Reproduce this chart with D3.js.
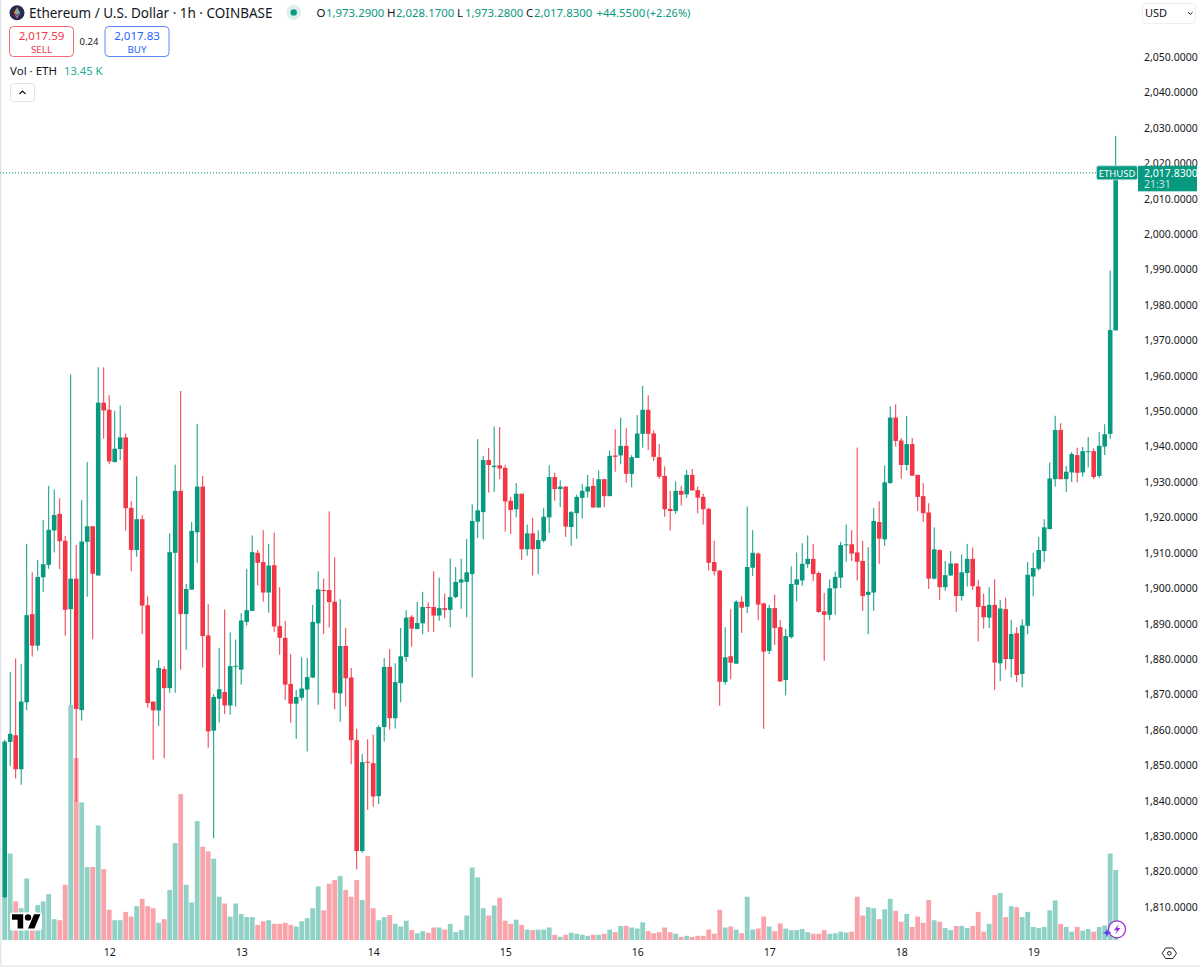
<!DOCTYPE html>
<html>
<head>
<meta charset="utf-8">
<script src="https://cdn.jsdelivr.net/npm/d3@7"></script>
<style>
  html, body { margin: 0; padding: 0; background: #fff; }
  svg { display: block; }
  text { font-family: "Noto Sans", sans-serif; fill: #131722; }
</style>
</head>
<body>
<div id="chart"></div>
<script>
var highs = [
  1857.2,1876.3,1880.2,1878.6,1912.5,1904.5,1908.0,1919.3,1928.9,1927.9,
  1925.4,1914.8,1960.4,1912.2,1924.9,1935.6,1917.5,1962.4,1962.4,1954.5,
  1950.1,1951.6,1943.7,1924.6,1931.6,1920.7,1897.7,1868.0,1879.7,1878.0,
  1915.5,1934.9,1955.7,1901.2,1918.7,1946.4,1931.7,1895.5,1870.1,1883.2,
  1894.0,1887.5,1885.5,1893.0,1905.4,1914.9,1910.8,1916.4,1912.5,1915.7,
  1900.3,1890.8,1881.4,1871.3,1880.5,1880.3,1895.3,1904.8,1902.7,1921.7,
  1908.7,1896.9,1888.8,1877.5,1860.3,1853.2,1857.4,1858.7,1861.3,1880.3,
  1882.8,1878.8,1888.8,1893.8,1892.4,1896.2,1899.0,1896.0,1904.8,1903.0,
  1898.5,1908.4,1906.0,1908.3,1913.9,1923.7,1942.1,1937.4,1939.6,1945.7,
  1945.5,1934.9,1925.8,1929.7,1926.7,1918.0,1919.9,1916.4,1922.7,1934.7,
  1932.6,1930.5,1928.8,1921.8,1926.4,1929.4,1932.0,1931.1,1933.3,1930.8,
  1938.9,1944.9,1948.2,1945.2,1937.6,1948.9,1957.1,1954.5,1944.6,1940.7,
  1934.4,1927.5,1930.2,1928.9,1933.4,1933.7,1928.7,1926.7,1922.8,1913.4,
  1905.0,1889.0,1894.1,1896.6,1897.7,1923.1,1916.4,1910.1,1896.0,1895.3,
  1898.2,1891.0,1888.5,1906.2,1910.1,1912.7,1914.9,1912.5,1904.7,1898.7,
  1902.5,1904.7,1913.1,1918.0,1916.4,1939.7,1913.4,1911.6,1922.7,1924.6,
  1934.7,1951.4,1951.9,1942.4,1948.6,1942.4,1932.1,1929.7,1924.0,1917.2,
  1911.0,1907.7,1910.5,1907.1,1909.5,1912.5,1911.5,1902.4,1898.5,1900.3,
  1902.5,1896.7,1897.3,1891.1,1889.0,1891.2,1907.4,1910.0,1914.5,1919.5,
  1935.5,1948.7,1946.6,1934.5,1938.5,1939.7,1939.9,1942.7,1939.5,1944.1,
  1946.3,1989.7,2027.7
];
var lows = [
  1812.4,1849.8,1846.3,1844.5,1865.6,1880.7,1882.4,1898.9,1905.5,1910.1,
  1905.4,1886.6,1867.0,1839.7,1862.6,1897.6,1885.6,1903.6,1942.2,1935.0,
  1935.6,1936.2,1916.3,1904.8,1908.9,1887.1,1866.3,1851.6,1861.1,1852.0,
  1870.5,1870.5,1877.0,1882.6,1899.6,1907.2,1877.6,1855.0,1829.4,1862.1,
  1864.5,1864.3,1866.6,1872.8,1889.5,1893.6,1900.8,1896.2,1893.1,1887.7,
  1881.2,1868.5,1862.0,1857.5,1868.3,1853.9,1874.6,1867.1,1887.1,1888.9,
  1865.8,1862.3,1866.6,1850.3,1820.6,1825.3,1837.4,1838.3,1839.1,1856.7,
  1860.1,1860.4,1867.8,1879.3,1883.5,1888.4,1887.0,1887.7,1887.7,1890.8,
  1891.5,1889.0,1897.2,1894.2,1891.8,1874.8,1914.2,1913.8,1927.0,1927.2,
  1930.8,1916.0,1915.3,1920.0,1908.0,1909.2,1903.6,1904.0,1912.9,1915.6,
  1924.7,1922.9,1914.5,1912.0,1914.0,1919.7,1925.6,1922.8,1922.8,1922.9,
  1926.0,1932.9,1935.0,1929.8,1928.5,1936.8,1939.7,1939.0,1935.9,1930.9,
  1920.2,1916.3,1921.0,1923.3,1925.5,1927.6,1921.2,1918.0,1905.0,1903.6,
  1866.8,1872.8,1874.3,1878.7,1887.4,1893.0,1903.5,1891.0,1860.3,1881.4,
  1884.0,1873.5,1869.8,1885.8,1896.3,1900.7,1905.8,1902.0,1893.1,1879.5,
  1891.0,1892.5,1900.1,1907.5,1907.7,1902.2,1893.6,1887.0,1893.6,1906.9,
  1912.0,1929.5,1940.0,1930.9,1933.2,1931.7,1921.8,1918.7,1899.8,1902.5,
  1896.7,1899.3,1903.6,1893.3,1896.5,1900.5,1899.5,1885.0,1888.6,1888.8,
  1871.3,1873.8,1877.0,1874.8,1873.5,1872.0,1887.0,1897.7,1905.0,1907.4,
  1916.7,1928.7,1930.8,1927.2,1930.0,1929.9,1931.5,1934.1,1930.8,1931.2,
  1937.6,1942.2,1972.8
];
var opens = [
  1812.8,1856.6,1858.5,1848.9,1867.8,1892.7,1883.8,1903.1,1906.6,1916.3,
  1921.0,1913.4,1894.1,1902.7,1865.6,1913.1,1917.5,1903.6,1952.4,1950.4,
  1935.6,1939.3,1942.6,1922.7,1910.8,1919.5,1895.2,1868.0,1865.5,1877.2,
  1871.8,1910.0,1927.5,1892.7,1899.6,1915.8,1928.7,1886.7,1859.8,1868.8,
  1870.7,1866.9,1878.0,1877.0,1890.5,1893.6,1910.0,1907.4,1898.8,1906.5,
  1889.3,1886.0,1873.0,1867.4,1869.1,1871.4,1874.8,1890.1,1899.5,1899.5,
  1896.2,1870.3,1883.7,1874.8,1857.1,1825.8,1851.0,1850.6,1841.3,1860.8,
  1877.8,1863.3,1873.2,1880.6,1891.9,1888.5,1890.1,1894.7,1894.7,1892.3,
  1894.4,1893.9,1897.5,1901.6,1901.8,1904.0,1918.8,1921.5,1936.2,1934.2,
  1934.7,1934.0,1924.7,1922.3,1926.7,1911.0,1915.5,1911.1,1913.4,1920.0,
  1931.4,1928.0,1928.7,1917.3,1921.2,1925.5,1927.3,1928.9,1922.8,1930.8,
  1926.0,1937.5,1937.5,1940.2,1932.3,1936.8,1943.6,1950.4,1943.7,1937.0,
  1931.7,1922.4,1921.8,1927.5,1926.5,1932.0,1927.7,1925.8,1922.4,1907.4,
  1905.0,1873.5,1880.8,1878.7,1896.2,1894.8,1905.8,1909.8,1895.7,1882.3,
  1894.4,1889.0,1874.1,1886.2,1901.0,1902.2,1906.8,1908.3,1904.3,1893.5,
  1892.5,1900.0,1903.0,1912.3,1912.4,1910.1,1907.7,1898.1,1898.8,1918.7,
  1913.8,1929.7,1948.2,1941.7,1934.8,1940.7,1932.0,1926.0,1921.4,1902.7,
  1910.8,1900.3,1903.6,1907.0,1897.8,1904.3,1908.3,1900.5,1895.0,1891.7,
  1895.3,1878.8,1894.1,1880.0,1887.3,1875.8,1889.4,1903.3,1905.5,1910.5,
  1916.7,1930.8,1944.7,1930.8,1932.7,1937.6,1932.7,1938.6,1938.7,1931.7,
  1940.0,1943.6,1972.8
];
var closes = [
  1856.7,1858.9,1848.9,1868.0,1892.4,1883.8,1903.2,1906.8,1916.5,1920.7,
  1913.3,1893.9,1902.7,1865.9,1913.2,1917.5,1904.1,1952.4,1950.2,1935.8,
  1939.4,1942.6,1922.6,1910.8,1919.5,1895.1,1867.6,1865.5,1877.5,1871.8,
  1910.2,1927.5,1892.7,1899.8,1916.2,1928.7,1886.5,1859.6,1869.3,1871.5,
  1866.9,1878.0,1878.1,1890.9,1893.8,1910.2,1907.2,1898.8,1906.4,1889.2,
  1886.0,1872.8,1867.4,1869.3,1871.7,1874.9,1890.5,1899.7,1899.3,1896.1,
  1870.5,1883.7,1874.6,1857.1,1825.8,1850.9,1850.8,1841.2,1860.8,1877.8,
  1863.3,1873.5,1880.8,1891.7,1888.6,1890.2,1894.7,1894.5,1892.3,1894.4,
  1893.9,1897.5,1901.8,1902.5,1904.5,1919.0,1922.0,1936.2,1934.8,1934.6,
  1933.8,1924.5,1922.1,1926.7,1911.0,1915.5,1911.0,1913.6,1920.2,1931.4,
  1928.0,1928.7,1917.4,1921.5,1925.8,1927.5,1928.7,1922.8,1930.8,1926.0,
  1937.4,1937.1,1940.2,1932.3,1937.0,1943.7,1950.4,1943.6,1937.1,1931.5,
  1922.3,1921.8,1927.5,1926.4,1932.0,1927.6,1925.6,1922.3,1907.2,1904.8,
  1873.6,1880.5,1879.0,1896.2,1894.5,1906.0,1910.0,1895.4,1882.1,1894.4,
  1888.8,1873.7,1886.5,1901.2,1902.5,1906.9,1908.3,1904.0,1893.3,1892.5,
  1900.0,1903.2,1912.2,1912.4,1909.8,1907.5,1897.8,1899.0,1919.0,1914.0,
  1929.9,1948.2,1941.6,1934.8,1940.7,1931.8,1925.8,1921.2,1902.7,1911.0,
  1900.3,1903.7,1907.0,1897.8,1904.5,1908.3,1900.6,1894.7,1891.8,1895.3,
  1879.0,1894.3,1880.0,1887.1,1875.5,1889.5,1903.8,1905.7,1910.8,1917.2,
  1931.0,1944.7,1930.8,1932.9,1937.9,1932.6,1938.7,1938.7,1931.4,1940.2,
  1943.5,1972.9,2017.3
];
// volume in thousands of ETH
var volumes = [
  8.3,16.6,7.4,6.1,11.8,3.8,6.7,7.4,8.8,4.0,
  3.8,10.6,45.1,34.9,26.4,14.0,14.0,22.0,13.6,5.8,
  3.8,3.8,5.4,4.5,6.5,7.9,6.5,6.1,3.3,4.0,
  9.6,18.6,28.0,10.6,7.2,22.8,17.9,17.0,15.6,8.3,
  7.0,4.5,7.0,5.0,4.4,4.4,2.9,3.6,3.8,3.1,
  3.1,3.3,2.9,2.6,3.6,4.2,6.1,10.3,5.7,10.8,
  11.5,12.3,9.6,8.3,11.5,7.7,16.1,6.1,3.8,4.4,
  4.8,3.1,2.6,3.7,1.9,1.3,1.7,1.4,2.4,2.4,
  2.0,3.1,1.5,1.9,4.7,13.9,12.0,6.1,4.7,6.6,
  8.1,3.7,3.1,3.9,2.9,2.0,1.9,2.0,2.0,2.4,
  1.0,0.6,1.0,1.4,1.2,1.0,0.8,1.0,1.0,1.2,
  2.0,1.5,2.7,2.7,2.4,2.2,3.4,1.7,1.3,1.5,
  2.4,1.5,1.2,0.6,0.8,0.6,0.8,0.8,2.0,1.2,
  5.8,2.4,2.6,2.0,1.3,8.3,2.0,2.2,4.5,2.6,
  1.7,3.2,2.2,1.9,1.9,2.1,1.5,1.2,1.2,1.9,
  1.2,1.3,1.6,1.4,1.6,8.3,4.7,6.3,6.1,4.0,
  5.9,7.9,5.6,3.5,5.0,2.5,4.5,3.3,7.7,3.8,
  3.5,2.3,1.9,2.7,2.7,2.3,2.7,5.4,1.6,3.1,
  8.6,9.0,4.4,6.5,6.3,4.4,5.4,2.5,2.3,2.5,
  5.7,7.6,3.1,2.5,1.6,2.5,1.8,2.1,1.6,2.5,
  2.8,16.6,13.45
];
var dayStarts = [19, 43, 67, 91, 115, 139, 163, 187];
var dayLabels = ["12", "13", "14", "15", "16", "17", "18", "19"];
var priceTicks = d3.range(1810, 2051, 10);

var width = 1200, height = 967;
var green = "#089981", red = "#F23645";

var svg = d3.select("#chart").append("svg")
    .attr("width", width)
    .attr("height", height);

var x = d3.scaleLinear().domain([0, closes.length - 1]).range([4.7, 1115.7]);
var y = d3.scaleLinear().domain([1810, 2050]).range([907, 57]);
var yVol = d3.scaleLinear().domain([0, 45.1]).range([940, 705]);

function colorOf(i) { return closes[i] >= opens[i] ? green : red; }

// frame
svg.append("rect").attr("width", 1.5).attr("height", height).attr("fill", "#e6e7ea");
svg.append("rect").attr("y", 965).attr("width", width).attr("height", 2).attr("fill", "#eeeff1");

// volume pane
svg.append("g").selectAll("rect")
    .data(volumes)
    .enter().append("rect")
    .attr("x", function(d, i) { return x(i) - 2.4; })
    .attr("y", function(d) { return yVol(d); })
    .attr("width", 4.8)
    .attr("height", function(d) { return yVol(0) - yVol(d); })
    .attr("fill", function(d, i) { return colorOf(i); })
    .attr("opacity", 0.45);

// candles
var candles = svg.append("g").selectAll("g")
    .data(closes)
    .enter().append("g");

candles.append("line")
    .attr("x1", function(d, i) { return x(i); })
    .attr("x2", function(d, i) { return x(i); })
    .attr("y1", function(d, i) { return y(highs[i]); })
    .attr("y2", function(d, i) { return y(lows[i]); })
    .attr("stroke", function(d, i) { return colorOf(i); })
    .attr("stroke-width", 1);

candles.append("rect")
    .attr("x", function(d, i) { return x(i) - 2.3; })
    .attr("y", function(d, i) { return y(Math.max(opens[i], closes[i])); })
    .attr("width", 4.6)
    .attr("height", function(d, i) { return Math.max(1, Math.abs(y(opens[i]) - y(closes[i]))); })
    .attr("fill", function(d, i) { return colorOf(i); });

// price axis
var yAxis = d3.axisRight(y)
    .tickValues(priceTicks)
    .tickFormat(d3.format(",.4f"))
    .tickSize(0)
    .tickPadding(6);
var yG = svg.append("g").attr("transform", "translate(1138,0)").call(yAxis);
yG.select(".domain").remove();
yG.selectAll("text").style("font-size", "10.5px").style("font-family", "Noto Sans").attr("fill", "#131722");

// time axis
var xAxis = d3.axisBottom(x)
    .tickValues(dayStarts)
    .tickFormat(function(d, i) { return dayLabels[i]; })
    .tickSize(0)
    .tickPadding(8);
var xG = svg.append("g").attr("transform", "translate(0,941)").call(xAxis);
xG.select(".domain").remove();
xG.selectAll("text").style("font-size", "10.5px").style("font-family", "Noto Sans").attr("fill", "#131722");

// last price line and labels
var last = closes[closes.length - 1];
svg.append("line")
    .attr("x1", 0).attr("x2", 1097)
    .attr("y1", y(last)).attr("y2", y(last))
    .attr("stroke", green).attr("stroke-width", 1).attr("stroke-dasharray", "1 2");

svg.append("rect").attr("x", 1096.5).attr("y", y(last) - 7).attr("width", 41).attr("height", 14)
    .attr("rx", 2).attr("fill", green).attr("stroke", "#bfe5de").attr("stroke-width", 0.8);
svg.append("text").attr("x", 1117).attr("y", y(last) + 3.7).attr("text-anchor", "middle")
    .style("font-size", "9.5px").style("fill", "#fff").text("ETHUSD");
svg.append("rect").attr("x", 1138).attr("y", y(last) - 7).attr("width", 59).attr("height", 25.5)
    .attr("fill", green);
svg.append("text").attr("x", 1144).attr("y", y(last) + 3.7)
    .style("font-size", "10.5px").style("fill", "#fff").text(d3.format(",.4f")(2017.83));
svg.append("text").attr("x", 1144).attr("y", y(last) + 15)
    .style("font-size", "10.5px").style("fill", "#fff").attr("opacity", 0.75).text("21:31");

// header
var logo = svg.append("g").attr("transform", "translate(17,12.7)");
logo.append("circle").attr("r", 7.5).attr("fill", "#2a2a4a");
logo.append("path").attr("d", "M0,-5.5L-3.3,0.2L0,2.2Z").attr("fill", "#e0873a");
logo.append("path").attr("d", "M0,-5.5L3.3,0.2L0,2.2Z").attr("fill", "#5fb8d8");
logo.append("path").attr("d", "M-3.3,1L0,3L0,5.7Z").attr("fill", "#d8509a");
logo.append("path").attr("d", "M3.3,1L0,3L0,5.7Z").attr("fill", "#8a6fd0");

svg.append("text").attr("x", 29).attr("y", 18).style("font-size", "13.5px").text("Ethereum / U.S. Dollar · 1h · COINBASE");

svg.append("circle").attr("cx", 293.7).attr("cy", 12.4).attr("r", 7.5).attr("fill", "#dcf1ee");
svg.append("circle").attr("cx", 293.7).attr("cy", 12.4).attr("r", 3.2).attr("fill", green);

var ohlcLabels = [["O", 316.5], ["H", 387], ["L", 457], ["C", 526]];
var ohlcValues = [["1,973.2900", 326, 11.4], ["2,028.1700", 396, 11.4], ["1,973.2800", 465, 11.4], ["2,017.8300", 534, 11.4],
                  ["+44.5500", 596.5, 11.4], ["(+2.26%)", 646.5, 11]];
ohlcLabels.forEach(function(d) {
  svg.append("text").attr("x", d[1]).attr("y", 17).style("font-size", "11.5px").text(d[0]);
});
ohlcValues.forEach(function(d) {
  svg.append("text").attr("x", d[1]).attr("y", 17).style("font-size", d[2] + "px").style("fill", green).text(d[0]);
});

// sell and buy boxes
function tradeBox(left, color, price, label) {
  svg.append("rect").attr("x", left + 0.5).attr("y", 26.5).attr("width", 64).attr("height", 30)
      .attr("rx", 4).attr("fill", "#fff").attr("stroke", color).attr("stroke-opacity", 0.75);
  svg.append("text").attr("x", left + 32.5).attr("y", 40).attr("text-anchor", "middle")
      .style("font-size", "11.5px").style("fill", color).text(price);
  svg.append("text").attr("x", left + 32.5).attr("y", 52.8).attr("text-anchor", "middle")
      .style("font-size", "9.8px").style("fill", color).text(label);
}
tradeBox(9, red, "2,017.59", "SELL");
tradeBox(104.5, "#2962FF", "2,017.83", "BUY");
svg.append("text").attr("x", 89).attr("y", 45).attr("text-anchor", "middle").style("font-size", "9.5px").text("0.24");

svg.append("text").attr("x", 10).attr("y", 75).style("font-size", "11.5px").text("Vol · ETH");
svg.append("text").attr("x", 64).attr("y", 75).style("font-size", "11.2px").style("fill", "#22ab94").text("13.45 K");

svg.append("rect").attr("x", 10.5).attr("y", 83.5).attr("width", 24).attr("height", 18).attr("rx", 3)
    .attr("fill", "#fff").attr("stroke", "#e0e3eb");
svg.append("path").attr("d", "M19.5,94L22.5,91L25.5,94").attr("fill", "none").attr("stroke", "#131722").attr("stroke-width", 1.2);

// currency button
svg.append("rect").attr("x", 1142.5).attr("y", 3.5).attr("width", 53).attr("height", 20).attr("rx", 3)
    .attr("fill", "#fff").attr("stroke", "#eceef2");
svg.append("text").attr("x", 1145).attr("y", 17).style("font-size", "11px").text("USD");
svg.append("path").attr("d", "M1188,12.2L1190.3,14.4L1192.6,12.2").attr("fill", "none").attr("stroke", "#131722").attr("stroke-width", 1);

// TradingView mark
var tv = svg.append("g");
tv.append("rect").attr("x", 10).attr("y", 912.5).attr("width", 32).attr("height", 18).attr("rx", 2).attr("fill", "#fff");
var tvMark = tv.append("g").attr("transform", "translate(12,911) scale(0.8)");
tvMark.append("path").attr("d", "M14 22H7V11H0V4h14v18zM28 22h-8l7.5-18h8L28 22z").attr("fill", "#000");
tvMark.append("circle").attr("cx", 20).attr("cy", 8).attr("r", 4).attr("fill", "#000");

// bolt badge and spark
svg.append("circle").attr("cx", 1117).attr("cy", 929.3).attr("r", 8.5).attr("fill", "#fff")
    .attr("stroke", "#9c2bd0").attr("stroke-width", 1.2);
svg.append("path").attr("d", "M1118.8,924L1114,930.2H1117L1115.3,934.6L1120.4,928H1117.3Z").attr("fill", "#9c2bd0");
svg.append("path").attr("d", "M1107,928.5L1108.2,931.7L1111.4,932.8L1108.2,934L1107,937.2L1105.8,934L1102.6,932.8L1105.8,931.7Z")
    .attr("fill", "#5b3df5");

// settings hexagon
svg.append("path").attr("d", "M1164.6,946.5H1174L1178.5,953.3L1174,960H1164.6L1160.2,953.3Z")
    .attr("transform", "translate(1169.3,953.3) scale(0.78) translate(-1169.3,-953.3)")
    .attr("fill", "none").attr("stroke", "#131722").attr("stroke-width", 1.2);
svg.append("circle").attr("cx", 1169.3).attr("cy", 953.3).attr("r", 1.8).attr("fill", "none").attr("stroke", "#131722");
</script>
</body>
</html>
